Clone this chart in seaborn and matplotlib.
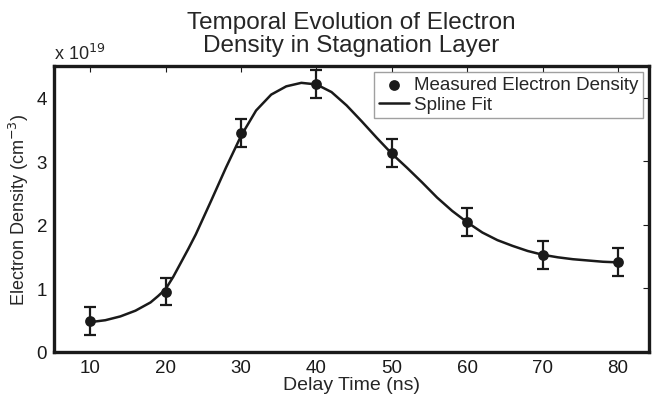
import matplotlib
matplotlib.use("Agg")
import matplotlib.pyplot as plt
import pandas as pd
import seaborn as sns

# measured points (units of 1e19 cm^-3)
delay_ns = [10, 20, 30, 40, 50, 60, 70, 80]
density = [0.49, 0.95, 3.45, 4.22, 3.13, 2.04, 1.52, 1.41]
density_err = [0.22, 0.21, 0.22, 0.22, 0.22, 0.22, 0.22, 0.22]

# spline fit curve
spline_x = [10, 12, 14, 16, 18, 19, 20, 21, 22, 23, 24, 26, 28, 30, 32, 34,
            36, 38, 40, 42, 44, 46, 48, 50, 52, 54, 56, 58, 60, 62, 64, 66,
            68, 70, 72, 74, 76, 78, 80]
spline_y = [0.47, 0.50, 0.56, 0.65, 0.78, 0.88, 0.99, 1.18, 1.40, 1.62, 1.85,
            2.37, 2.90, 3.40, 3.80, 4.05, 4.18, 4.235, 4.21, 4.09, 3.88,
            3.63, 3.37, 3.12, 2.90, 2.67, 2.43, 2.22, 2.04, 1.88, 1.76, 1.67,
            1.59, 1.53, 1.49, 1.46, 1.44, 1.42, 1.41]

sns.set_style("white")
plt.rcParams["font.family"] = ["Liberation Sans", "DejaVu Sans"]

points = pd.DataFrame({"delay": delay_ns, "density": density, "err": density_err})
curve = pd.DataFrame({"delay": spline_x, "density": spline_y})

fig = plt.figure(figsize=(6.52, 4.02), dpi=100)
ax = fig.add_axes([54 / 652, 49 / 402, 595 / 652, 286 / 402])

ax.errorbar(points["delay"], points["density"], yerr=points["err"], fmt="none",
            ecolor="#1a1a1a", elinewidth=1.6, capsize=4, capthick=1.6, zorder=3)
sns.scatterplot(data=points, x="delay", y="density", color="#1a1a1a", s=60,
                edgecolor="#1a1a1a", linewidth=0, zorder=4, ax=ax,
                label="Measured Electron Density")
sns.lineplot(data=curve, x="delay", y="density", color="#1a1a1a", linewidth=1.8,
             ax=ax, label="Spline Fit", zorder=2)

ax.set_xlim(5.2, 84.1)
ax.set_ylim(0, 4.5)
ax.set_xticks(delay_ns)
ax.set_yticks([0, 1, 2, 3, 4])
ax.tick_params(direction="in", length=4, width=0.8, top=True, right=True,
               labelsize=13.5, colors="#1a1a1a", pad=5)
for sp in ax.spines.values():
    sp.set_linewidth(2.4)
    sp.set_color("#1a1a1a")

ax.set_xlabel("Delay Time (ns)", fontsize=14, labelpad=0)
ax.set_ylabel("Electron Density (cm$^{-3}$)", fontsize=13, labelpad=4)
ax.set_title("Temporal Evolution of Electron\nDensity in Stagnation Layer",
             fontsize=17.5, pad=11, linespacing=1.05)
ax.text(0.0, 1.01, "x 10$^{19}$", transform=ax.transAxes, fontsize=13,
        ha="left", va="bottom")

leg = ax.legend(loc="upper right", fontsize=13.5, frameon=True, fancybox=False,
                borderaxespad=0.3, handlelength=1.6, handletextpad=0.3,
                borderpad=0.25, labelspacing=0.15)
leg.get_frame().set_edgecolor("#888888")
leg.get_frame().set_linewidth(1.0)

fig.savefig("out.png", dpi=100)
